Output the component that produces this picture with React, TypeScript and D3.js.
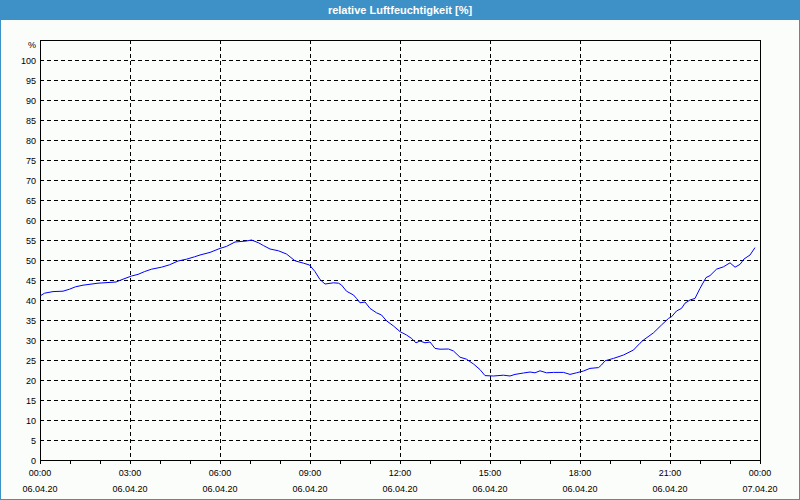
import React, { useEffect, useRef } from "react";
import * as d3 from "d3";

const TITLE = "relative Luftfeuchtigkeit [%]";
const Y_UNIT = "%";
const minutes = [0, 9, 26, 46, 59, 71, 86, 116, 152, 166, 183, 196, 209, 223, 243, 259, 276, 293, 309, 320, 340, 360, 373, 390, 413, 423, 437, 447, 460, 477, 493, 510, 527, 539, 550, 560, 570, 587, 597, 603, 613, 627, 633, 640, 650, 660, 673, 683, 693, 707, 720, 733, 743, 752, 760, 770, 780, 790, 800, 817, 827, 840, 853, 867, 880, 890, 907, 927, 940, 950, 967, 980, 990, 1000, 1013, 1027, 1047, 1060, 1073, 1087, 1100, 1117, 1123, 1130, 1147, 1167, 1187, 1200, 1207, 1227, 1243, 1257, 1263, 1273, 1283, 1290, 1300, 1310, 1320, 1332, 1340, 1353, 1367, 1380, 1390, 1400, 1408, 1420, 1430];
const humidity = [41.0, 41.7, 42.1, 42.2, 42.7, 43.3, 43.7, 44.2, 44.5, 45.2, 46.0, 46.4, 47.1, 47.7, 48.2, 48.8, 49.75, 50.2, 50.8, 51.25, 51.9, 52.9, 53.4, 54.5, 54.75, 55.0, 54.3, 53.6, 52.75, 52.3, 51.5, 49.8, 49.2, 48.75, 47.1, 45.1, 44.0, 44.3, 44.2, 43.75, 42.2, 41.25, 40.4, 39.3, 39.5, 37.9, 36.8, 36.25, 34.8, 33.5, 32.1, 31.25, 30.4, 29.3, 29.75, 29.3, 29.5, 27.9, 27.7, 27.75, 27.25, 25.7, 25.2, 24.0, 22.6, 21.1, 21.0, 21.2, 21.0, 21.4, 21.75, 22.0, 21.8, 22.3, 21.8, 21.9, 21.9, 21.4, 21.8, 22.25, 22.9, 23.1, 23.75, 24.8, 25.4, 26.25, 27.5, 29.2, 30.0, 31.8, 33.75, 35.4, 35.8, 37.25, 37.9, 39.2, 40.0, 40.4, 42.9, 45.6, 46.1, 47.7, 48.3, 49.3, 48.2, 48.9, 50.25, 51.25, 53.1];
const yTicks = [0, 5, 10, 15, 20, 25, 30, 35, 40, 45, 50, 55, 60, 65, 70, 75, 80, 85, 90, 95, 100];
const xTickHours = [0, 3, 6, 9, 12, 15, 18, 21, 24];
const xTimeLabels = ["00:00", "03:00", "06:00", "09:00", "12:00", "15:00", "18:00", "21:00", "00:00"];
const xDateLabels = ["06.04.20", "06.04.20", "06.04.20", "06.04.20", "06.04.20", "06.04.20", "06.04.20", "06.04.20", "07.04.20"];
const minorHours = d3.range(0, 25);

const W = 800, H = 500;
const L = 40, R = 760, T = 40, B = 460;
const FONT = "'Liberation Sans', Arial, sans-serif";

export default function App() {
  const ref = useRef<SVGSVGElement>(null);
  useEffect(() => {
    const svg = d3.select(ref.current);
    svg.selectAll("*").remove();
    const x = d3.scaleLinear().domain([0, 24]).range([L, R]);
    const y = d3.scaleLinear().domain([0, 105]).range([B, T]);

    svg.append("rect").attr("x", 0).attr("y", 0).attr("width", W).attr("height", H).attr("fill", "#fbfdfb");
    svg.append("rect").attr("x", 0).attr("y", 0).attr("width", W).attr("height", 20).attr("fill", "#3d91c6");
    svg.append("rect").attr("x", 0.5).attr("y", 0.5).attr("width", W - 1).attr("height", H - 1)
      .attr("fill", "none").attr("stroke", "#3d91c6").attr("stroke-width", 1);
    svg.append("text").attr("x", 400).attr("y", 14).attr("text-anchor", "middle")
      .attr("font-family", FONT).attr("font-size", 11).attr("font-weight", "bold").attr("fill", "#ffffff").text(TITLE);

    const g = svg.append("g").attr("shape-rendering", "crispEdges");
    // horizontal grid
    yTicks.filter(v => v > 0).forEach(v => {
      g.append("line").attr("x1", L).attr("x2", R).attr("y1", Math.round(y(v)) + 0.5).attr("y2", Math.round(y(v)) + 0.5)
        .attr("stroke", "#000").attr("stroke-dasharray", "4,3");
    });
    xTickHours.filter(h => h > 0 && h < 24).forEach(h => {
      g.append("line").attr("x1", Math.round(x(h)) + 0.5).attr("x2", Math.round(x(h)) + 0.5).attr("y1", T).attr("y2", B)
        .attr("stroke", "#000").attr("stroke-dasharray", "4,3");
    });
    // frame
    g.append("rect").attr("x", L + 0.5).attr("y", T + 0.5).attr("width", R - L).attr("height", B - T)
      .attr("fill", "none").attr("stroke", "#000");
    // minor ticks
    minorHours.forEach(h => {
      g.append("line").attr("x1", Math.round(x(h)) + 0.5).attr("x2", Math.round(x(h)) + 0.5).attr("y1", B).attr("y2", B + 4)
        .attr("stroke", "#000");
    });

    // y labels
    yTicks.forEach(v => {
      svg.append("text").attr("x", 36).attr("y", y(v) + 3.5).attr("text-anchor", "end")
        .attr("font-family", FONT).attr("font-size", 9).attr("fill", "#000").text(String(v));
    });
    svg.append("text").attr("x", 36).attr("y", 47.5).attr("text-anchor", "end")
      .attr("font-family", FONT).attr("font-size", 9).attr("fill", "#000").text(Y_UNIT);
    // x labels
    xTickHours.forEach((h, i) => {
      svg.append("text").attr("x", x(h)).attr("y", 476).attr("text-anchor", "middle")
        .attr("font-family", FONT).attr("font-size", 9).attr("fill", "#000").text(xTimeLabels[i]);
      svg.append("text").attr("x", x(h)).attr("y", 492).attr("text-anchor", "middle")
        .attr("font-family", FONT).attr("font-size", 9).attr("fill", "#000").text(xDateLabels[i]);
    });

    const data = minutes.map((m, i) => [m / 60, humidity[i]] as [number, number]);
    const line = d3.line<[number, number]>().x(d => x(d[0])).y(d => y(d[1]));
    svg.append("path").attr("d", line(data)).attr("fill", "none").attr("stroke", "#0000ff").attr("stroke-width", 1);
  }, []);
  return (
    <svg ref={ref} width={W} height={H} style={{ position: "absolute", left: 0, top: 0, display: "block" }} />
  );
}
